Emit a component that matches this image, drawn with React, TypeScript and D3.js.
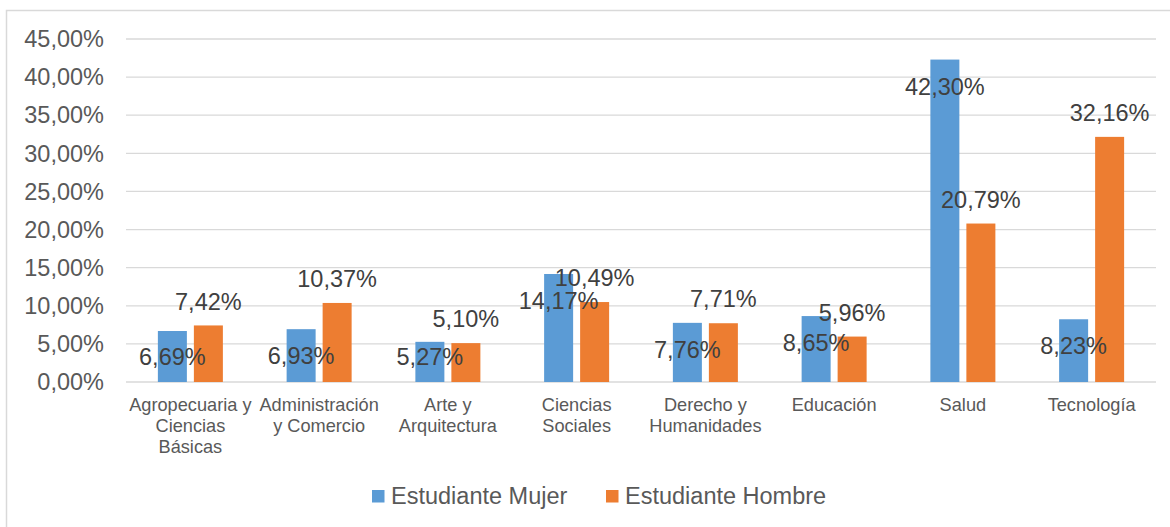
import React from "react";
import * as d3 from "d3";

const categories: string[][] = [
  ["Agropecuaria y", "Ciencias", "Básicas"],
  ["Administración", "y Comercio"],
  ["Arte y", "Arquitectura"],
  ["Ciencias", "Sociales"],
  ["Derecho y", "Humanidades"],
  ["Educación"],
  ["Salud"],
  ["Tecnología"],
];
const seriesNames = ["Estudiante Mujer", "Estudiante Hombre"];
const mujer = [6.69, 6.93, 5.27, 14.17, 7.76, 8.65, 42.3, 8.23];
const hombre = [7.42, 10.37, 5.1, 10.49, 7.71, 5.96, 20.79, 32.16];
const yTicks = [0, 5, 10, 15, 20, 25, 30, 35, 40, 45];
const colors = ["#5B9BD5", "#ED7D31"];

const W = 1170;
const H = 527;
const FONT = "'Liberation Sans', Arial, sans-serif";
const TXT = "#595959";

const locale = d3.formatLocale({ decimal: ",", thousands: ".", grouping: [3], currency: ["", "€"] });
const fmt = locale.format(".2f");

export default function App() {
  const left = 126, right = 1156, top = 39, bottom = 382;
  const idx = categories.map((_, i) => String(i));
  const step = (right - left) / categories.length;
  const p = 1 - 65 / step;
  const x0 = d3.scaleBand<string>().domain(idx).range([left, right]).paddingInner(p).paddingOuter(p / 2);
  const x1 = d3.scaleBand<string>().domain(["0", "1"]).range([0, x0.bandwidth()]).paddingInner(7 / 36);
  const y = d3.scaleLinear().domain([0, 45]).range([bottom, top]);
  const series = [mujer, hombre];

  return (
    <svg width={W} height={H} style={{ position: "absolute", left: 0, top: 0, background: "#fff" }}>
      <rect x={0} y={0} width={W} height={H} fill="#fff" />
      <rect x={6.5} y={10.5} width={W + 10} height={H + 10} fill="none" stroke="#D9D9D9" strokeWidth={1.5} />
      {yTicks.map((t) => (
        <g key={t}>
          <line x1={left} x2={right} y1={y(t)} y2={y(t)} stroke="#D9D9D9" strokeWidth={1.3} />
          <text x={104} y={y(t)} dy="0.35em" textAnchor="end" fontFamily={FONT} fontSize={23.5} fill={TXT}>
            {fmt(t) + "%"}
          </text>
        </g>
      ))}
      {series.map((vals, s) =>
        vals.map((v, i) => (
          <rect
            key={`b${s}-${i}`}
            x={(x0(String(i)) as number) + (x1(String(s)) as number)}
            y={y(v)}
            width={x1.bandwidth()}
            height={bottom - y(v)}
            fill={colors[s]}
          />
        ))
      )}
      {series.map((vals, s) =>
        vals.map((v, i) => {
          const cx = (x0(String(i)) as number) + (x1(String(s)) as number) + x1.bandwidth() / 2;
          const cy = s === 0 ? Math.min(y(v) + 27, bottom - 25) : y(v) - 24;
          return (
            <text key={`l${s}-${i}`} x={cx} y={cy} dy="0.35em" textAnchor="middle" fontFamily={FONT} fontSize={23.5} fill="#404040">
              {fmt(v) + "%"}
            </text>
          );
        })
      )}
      {categories.map((lines, i) => (
        <text key={`c${i}`} textAnchor="middle" fontFamily={FONT} fontSize={18.2} fill={TXT}>
          {lines.map((ln, k) => (
            <tspan key={k} x={(x0(String(i)) as number) + x0.bandwidth() / 2} y={405 + k * 21} dy="0.35em">
              {ln}
            </tspan>
          ))}
        </text>
      ))}
      {seriesNames.map((n, s) => {
        const lx = s === 0 ? 372 : 606;
        return (
          <g key={n}>
            <rect x={lx} y={490} width={12.5} height={12.5} fill={colors[s]} />
            <text x={lx + 19} y={496} dy="0.35em" fontFamily={FONT} fontSize={23.5} fill={TXT}>
              {n}
            </text>
          </g>
        );
      })}
    </svg>
  );
}
